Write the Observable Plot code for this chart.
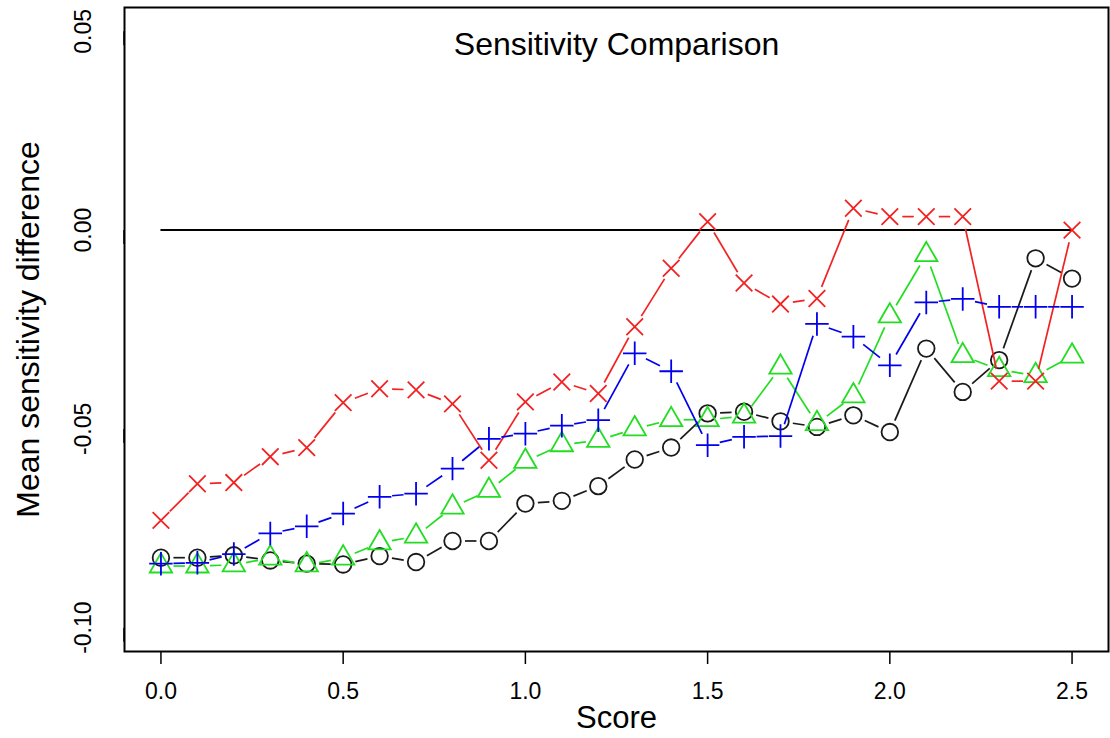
<!DOCTYPE html>
<html>
<head>
<meta charset="utf-8">
<script src="https://cdn.jsdelivr.net/npm/d3@7"></script>
<script src="https://cdn.jsdelivr.net/npm/@observablehq/plot@0.6"></script>
<style>
  body { margin: 0; background: #fff; }
  #chart { width: 1110px; height: 738px; }
</style>
</head>
<body>
<div id="chart"></div>
<script>
// ---------- data ----------
const scores = [0, 0.1, 0.2, 0.3, 0.4, 0.5, 0.6, 0.7, 0.8, 0.9, 1.0, 1.1, 1.2, 1.3, 1.4, 1.5, 1.6, 1.7, 1.8, 1.9, 2.0, 2.1, 2.2, 2.3, 2.4, 2.5];

const seriesCircle = [-0.0824, -0.0824, -0.0818, -0.0831, -0.0839, -0.0841, -0.0820, -0.0835, -0.0782, -0.0782, -0.0688, -0.0681, -0.0644, -0.0577, -0.0547, -0.0461, -0.0457, -0.0481, -0.0495, -0.0466, -0.0508, -0.0298, -0.0407, -0.0327, -0.0071, -0.0122];
const seriesTriangle = [-0.0845, -0.0845, -0.0842, -0.0825, -0.0842, -0.0825, -0.0787, -0.0770, -0.0697, -0.0655, -0.0582, -0.0540, -0.0529, -0.0500, -0.0477, -0.0477, -0.0468, -0.0345, -0.0487, -0.0417, -0.0216, -0.0062, -0.0316, -0.0351, -0.0366, -0.0317];
const seriesPlus = [-0.0839, -0.0837, -0.0815, -0.0763, -0.0745, -0.0713, -0.0671, -0.0663, -0.0600, -0.0525, -0.0512, -0.0492, -0.0478, -0.0310, -0.0355, -0.0541, -0.0520, -0.0518, -0.0236, -0.0268, -0.0340, -0.0182, -0.0173, -0.0193, -0.0193, -0.0193];
const seriesCross = [-0.0730, -0.0638, -0.0635, -0.0570, -0.0547, -0.0434, -0.0399, -0.0402, -0.0437, -0.0579, -0.0432, -0.0382, -0.0411, -0.0243, -0.0096, 0.0021, -0.0133, -0.0186, -0.0172, 0.0055, 0.0034, 0.0034, 0.0034, -0.0380, -0.0380, 0.0000];

const xTicks = [0, 0.5, 1.0, 1.5, 2.0, 2.5];
const yTicks = [-0.10, -0.05, 0.00, 0.05];
const referenceLine = [{y: 0, from: 0, to: 2.5}];

const titleText = "Sensitivity Comparison";
const xLabel = "Score";
const yLabel = "Mean sensitivity difference";

// ---------- symbols (R pch 1,2,3,4 look) ----------
const symTriangle = {
  draw(ctx, size) {
    const k = Math.sqrt(size / Math.PI);
    ctx.moveTo(0, -1.555 * k);
    ctx.lineTo(1.3468 * k, 0.7776 * k);
    ctx.lineTo(-1.3468 * k, 0.7776 * k);
    ctx.closePath();
  }
};
const symPlus = {
  draw(ctx, size) {
    const h = Math.SQRT2 * Math.sqrt(size / Math.PI);
    ctx.moveTo(-h, 0); ctx.lineTo(h, 0);
    ctx.moveTo(0, -h); ctx.lineTo(0, h);
  }
};
const symTimes = {
  draw(ctx, size) {
    const h = Math.sqrt(size / Math.PI);
    ctx.moveTo(-h, -h); ctx.lineTo(h, h);
    ctx.moveTo(-h, h); ctx.lineTo(h, -h);
  }
};

const series = [
  {values: seriesCircle, color: "#1a1a1a", symbol: "circle"},
  {values: seriesTriangle, color: "#22dd22", symbol: symTriangle},
  {values: seriesCross, color: "#f22222", symbol: symTimes},
  {values: seriesPlus, color: "#0000ee", symbol: symPlus}
];

const seriesMarks = series.flatMap(s => {
  const pts = s.values.map((v, i) => ({x: scores[i], y: v}));
  const segs = s.values.slice(1).map((v, i) => ({x1: scores[i], y1: s.values[i], x2: scores[i + 1], y2: v}));
  return [
    Plot.link(segs, {x1: "x1", y1: "y1", x2: "x2", y2: "y2", stroke: s.color, strokeWidth: 1.7}),
    Plot.dot(pts, {x: "x", y: "y", r: 8.3, symbol: s.symbol, fill: "none", stroke: s.color, strokeWidth: 1.8})
  ];
});

const chart = Plot.plot({
  width: 1110,
  height: 738,
  marginLeft: 124,
  marginRight: 2,
  marginTop: 7,
  marginBottom: 87,
  x: {domain: [-0.1, 2.6]},
  y: {domain: [-0.106, 0.056]},
  style: {fontFamily: "'Liberation Sans', Arial, Helvetica, sans-serif", background: "white", color: "black"},
  marks: [
    Plot.ruleY(referenceLine, {y: "y", x1: "from", x2: "to", stroke: "black", strokeWidth: 2}),
    ...seriesMarks,
    Plot.frame({stroke: "black", strokeWidth: 2}),
    Plot.axisX({ticks: xTicks, tickFormat: d => d.toFixed(1), tickSize: 13, tickPadding: 18, fontSize: 23, strokeWidth: 1.5, label: null}),
    Plot.axisY({ticks: yTicks, tickFormat: d => d.toFixed(2), tickSize: 14, tickPadding: 27, fontSize: 23, strokeWidth: 1.5, rotate: -90, textAnchor: "middle", lineAnchor: "middle", label: null}),
    Plot.text([titleText], {frameAnchor: "top", dy: 47, lineAnchor: "bottom", fontSize: 32, fill: "black"}),
    Plot.text([xLabel], {frameAnchor: "bottom", dy: 76, lineAnchor: "bottom", fontSize: 31, fill: "black"}),
    Plot.text([yLabel], {frameAnchor: "left", dx: -86, rotate: -90, textAnchor: "middle", lineAnchor: "bottom", fontSize: 32, fill: "black"})
  ]
});

// R "type = b": shorten each connecting segment so it stops short of the points
const GAP = 12.5;
chart.querySelectorAll('g[aria-label="link"] path').forEach(p => {
  const nums = (p.getAttribute("d") || "").match(/-?\d*\.?\d+(?:e[-+]?\d+)?/gi);
  if (!nums || nums.length < 4) return;
  const [ax, ay, bx, by] = nums.map(Number);
  const dx = bx - ax, dy = by - ay;
  const len = Math.hypot(dx, dy);
  if (len <= 2 * GAP) { p.remove(); return; }
  const ux = dx / len, uy = dy / len;
  p.setAttribute("d", `M${ax + ux * GAP},${ay + uy * GAP}L${bx - ux * GAP},${by - uy * GAP}`);
});

document.getElementById("chart").appendChild(chart);
</script>
</body>
</html>
